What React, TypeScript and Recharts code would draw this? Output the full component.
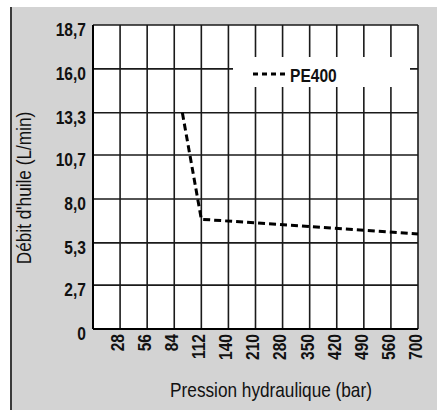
import React from 'react';
import { LineChart, Line, XAxis, YAxis, CartesianGrid, Legend, Label } from 'recharts';

// X axis categories (pressure, bar) at positions 1..12
const pressureLabels = ['28', '56', '84', '112', '140', '210', '280', '350', '420', '490', '560', '700'];
const pressurePositions = [1, 2, 3, 4, 5, 6, 7, 8, 9, 10, 11, 12];
// Y axis ticks (L/min)
const flowTicks = [0, 2.7, 5.3, 8.0, 10.7, 13.3, 16.0, 18.7];
const flowTickLabels = ['0', '2,7', '5,3', '8,0', '10,7', '13,3', '16,0', '18,7'];
// Series PE400: position on pressure axis, oil flow
const pe400Pos = [3.3, 4, 12];
const pe400Flow = [13.3, 6.75, 5.85];

const data = pe400Pos.map((p, i) => ({ pos: p, flow: pe400Flow[i] }));

const FONT = "'Liberation Sans', Arial, sans-serif";
const SQ = 0.82;

const XTick = (props: any) => {
  const { x, y, payload } = props;
  const idx = pressurePositions.indexOf(payload.value);
  const label = idx >= 0 ? pressureLabels[idx] : '';
  const px = x - 3;
  const py = y + 5;
  return (
    <text
      x={0}
      y={0}
      dy="0.36em"
      transform={`translate(${px}, ${py}) rotate(-90) scale(${SQ}, 1)`}
      textAnchor="end"
      fontFamily={FONT}
      fontWeight="bold"
      fontSize={19}
      fill="#111"
    >
      {label}
    </text>
  );
};

const YTick = (props: any) => {
  const { x, y, payload } = props;
  const idx = flowTicks.indexOf(payload.value);
  const label = idx >= 0 ? flowTickLabels[idx] : '';
  return (
    <text
      x={0}
      y={0}
      dy="0.36em"
      transform={`translate(${x - 7}, ${y + 4}) scale(${SQ}, 1)`}
      textAnchor="end"
      fontFamily={FONT}
      fontWeight="bold"
      fontSize={19}
      fill="#111"
    >
      {label}
    </text>
  );
};

const LegendContent = () => (
  <div style={{ width: 177, height: 30, background: '#fff', position: 'relative' }}>
    <svg width={177} height={30} style={{ position: 'absolute', left: 0, top: 0 }}>
      <line x1={20} y1={17} x2={54} y2={17} stroke="#000" strokeWidth={3} strokeDasharray="5 4" />
      <text
        x={0}
        y={0}
        transform={`translate(57, 24.7) scale(${SQ}, 1)`}
        fontFamily={FONT}
        fontWeight="bold"
        fontSize={19}
        fill="#111"
      >
        PE400
      </text>
    </svg>
  </div>
);

const XTitle = (props: any) => {
  const vb = props.viewBox || {};
  const cx = vb.x + vb.width / 2 + 15.5;
  return (
    <text
      x={0}
      y={0}
      transform={`translate(${cx}, 390) scale(${SQ}, 1)`}
      textAnchor="middle"
      fontFamily={FONT}
      fontSize={21}
      fill="#111"
    >
      Pression hydraulique (bar)
    </text>
  );
};

const YTitle = (props: any) => {
  const vb = props.viewBox || {};
  const cy = vb.y + vb.height / 2 + 11;
  const cx = 19;
  return (
    <text
      x={0}
      y={0}
      transform={`translate(${cx}, ${cy}) rotate(-90) scale(${SQ}, 1)`}
      textAnchor="middle"
      fontFamily={FONT}
      fontSize={21}
      fill="#111"
    >
      Débit d'huile (L/min)
    </text>
  );
};

export default function App() {
  return (
    <div
      style={{
        position: 'absolute',
        left: 10,
        top: 7,
        width: 425,
        height: 403,
        background: '#d3d3d3',
        borderLeft: '2px solid #3a3a3a',
      }}
    >
      <LineChart width={425} height={403} data={data} margin={{ top: 18, right: 19, bottom: 0, left: 0 }}>
        <CartesianGrid stroke="#1a1a1a" strokeWidth={1.6} fill="#fff" strokeDasharray="" />
        <XAxis
          dataKey="pos"
          type="number"
          domain={[0, 12]}
          ticks={pressurePositions}
          interval={0}
          height={81}
          tickSize={0}
          tickMargin={0}
          tickLine={false}
          axisLine={{ stroke: '#000', strokeWidth: 2 }}
          tick={<XTick />}
        >
          <Label content={<XTitle />} />
        </XAxis>
        <YAxis
          type="number"
          domain={[0, 18.7]}
          ticks={flowTicks}
          interval={0}
          width={81}
          tickSize={0}
          tickMargin={0}
          tickLine={false}
          axisLine={{ stroke: '#000', strokeWidth: 2 }}
          tick={<YTick />}
        >
          <Label content={<YTitle />} />
        </YAxis>
        <Legend
          layout="horizontal"
          verticalAlign="middle"
          align="center"
          content={<LegendContent />}
          wrapperStyle={{ position: 'absolute', left: 221, top: 50, width: 177, height: 30, margin: 0, padding: 0 }}
        />
        <Line
          type="linear"
          dataKey="flow"
          stroke="#000"
          strokeWidth={3}
          strokeDasharray="7 4"
          dot={false}
          activeDot={false}
          isAnimationActive={false}
        />
      </LineChart>
    </div>
  );
}
